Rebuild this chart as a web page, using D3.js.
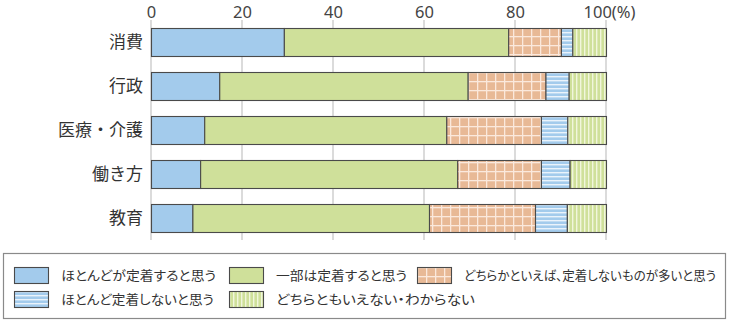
<!DOCTYPE html>
<html>
<head>
<meta charset="utf-8">
<script src="https://cdn.jsdelivr.net/npm/d3@7"></script>
<style>
  html, body { margin: 0; padding: 0; background: #fff; }
  svg { display: block; font-family: "Noto Sans CJK JP", "Noto Sans", sans-serif; }
  .legend-label { font-feature-settings: "palt"; }
</style>
</head>
<body>
<svg id="chart" width="729" height="322"></svg>
<script>
// Survey areas (rows, top to bottom)
const categories = ["消費", "行政", "医療・介護", "働き方", "教育"];

// Response options (stack order, left to right)
const seriesNames = [
  "ほとんどが定着すると思う",
  "一部は定着すると思う",
  "どちらかといえば、定着しないものが多いと思う",
  "ほとんど定着しないと思う",
  "どちらともいえない・わからない"
];

// Share of responses (%) per area, one array per option
const mostlyStay   = [29.2, 15.0, 11.7, 10.8,  9.1];
const partlyStay   = [49.3, 54.6, 53.2, 56.5, 52.0];
const ratherNot    = [11.6, 17.1, 20.8, 18.4, 23.3];
const hardlyStay   = [ 2.5,  5.1,  5.8,  6.3,  7.0];
const cannotSay    = [ 7.4,  8.2,  8.5,  8.0,  8.6];

const tickValues = [0, 20, 40, 60, 80, 100];

const seriesValues = [mostlyStay, partlyStay, ratherNot, hardlyStay, cannotSay];
const fills = ["#a3cbec", "#cfe09a", "url(#grid-orange)", "url(#stripe-blue)", "url(#stripe-green)"];

const svg = d3.select("#chart");
const defs = svg.append("defs");

// grid pattern
const pGrid = defs.append("pattern").attr("id", "grid-orange")
  .attr("patternUnits", "userSpaceOnUse").attr("width", 9).attr("height", 9);
pGrid.append("rect").attr("width", 9).attr("height", 9).attr("fill", "#e8b996");
pGrid.append("rect").attr("x", 0).attr("y", 0).attr("width", 1.3).attr("height", 9).attr("fill", "#fbe9dd");
pGrid.append("rect").attr("x", 0).attr("y", 0).attr("width", 9).attr("height", 1.3).attr("fill", "#fbe9dd");

// horizontal stripes
const pBlue = defs.append("pattern").attr("id", "stripe-blue")
  .attr("patternUnits", "userSpaceOnUse").attr("width", 4).attr("height", 4);
pBlue.append("rect").attr("width", 4).attr("height", 4).attr("fill", "#a3cbec");
pBlue.append("rect").attr("y", 0).attr("width", 4).attr("height", 1.4).attr("fill", "#eaf3fb");

// vertical stripes
const pGreen = defs.append("pattern").attr("id", "stripe-green")
  .attr("patternUnits", "userSpaceOnUse").attr("width", 4).attr("height", 4);
pGreen.append("rect").attr("width", 4).attr("height", 4).attr("fill", "#cfe09a");
pGreen.append("rect").attr("x", 0).attr("width", 1.4).attr("height", 4).attr("fill", "#f1f6dc");

const x = d3.scaleLinear().domain([0, 100]).range([151, 606]);
const y = d3.scaleBand().domain(categories).range([20, 240])
  .paddingInner(16 / 44).paddingOuter(8 / 44);

// vertical gridlines
svg.append("g").selectAll("line").data(tickValues).join("line")
  .attr("x1", d => x(d)).attr("x2", d => x(d))
  .attr("y1", 20).attr("y2", 240)
  .attr("stroke", "#c8c8c8").attr("stroke-width", 1.3);

// top axis labels
const axis = d3.axisTop(x).tickValues(tickValues).tickSize(0)
  .tickFormat(d => d === 100 ? "100(%)" : d);
const gAxis = svg.append("g").call(axis);
gAxis.select(".domain").remove();
gAxis.selectAll("text")
  .attr("font-size", 16.5).attr("fill", "#444")
  .attr("font-family", "'Noto Sans', sans-serif")
  .attr("y", 18).attr("dy", 0);
gAxis.selectAll(".tick").filter(d => d === 100).select("text")
  .attr("text-anchor", "start").attr("x", -23);

// category labels
svg.append("g").selectAll("text").data(categories).join("text")
  .attr("x", 143).attr("y", d => y(d) + y.bandwidth() / 2)
  .attr("dy", "0.36em").attr("text-anchor", "end")
  .attr("font-size", 17).attr("fill", "#333").text(d => d);

// stacked bars
const rows = categories.map((c, i) => {
  const r = { cat: c };
  seriesValues.forEach((arr, k) => r["s" + k] = arr[i]);
  return r;
});
const stack = d3.stack().keys(seriesValues.map((_, k) => "s" + k))(rows);

svg.append("g").selectAll("g").data(stack).join("g")
  .attr("fill", (d, k) => fills[k])
  .selectAll("rect").data(d => d).join("rect")
  .attr("x", d => x(d[0]) + 0.5)
  .attr("y", d => y(d.data.cat) + 0.5)
  .attr("width", d => x(d[1]) - x(d[0]))
  .attr("height", y.bandwidth())
  .attr("stroke", "#4a4a4a").attr("stroke-width", 1.1);

// legend
svg.append("rect").attr("x", 3.5).attr("y", 253.5).attr("width", 722).attr("height", 65)
  .attr("fill", "none").attr("stroke", "#8a8a8a").attr("stroke-width", 1.2);

const legendPos = [
  [14, 267], [229, 267], [417, 267],
  [14, 291], [229, 291]
];
const legendTextWidth = [155, 131, 252, 153, 199];
const lg = svg.append("g").selectAll("g").data(seriesNames).join("g")
  .attr("transform", (d, k) => `translate(${legendPos[k][0]},${legendPos[k][1]})`);
lg.append("rect").attr("x", 0.5).attr("y", 0.5).attr("width", 34).attr("height", 16)
  .attr("fill", (d, k) => fills[k]).attr("stroke", "#4a4a4a").attr("stroke-width", 1.1);
lg.append("text").attr("class", "legend-label")
  .attr("x", 47).attr("y", 8.5).attr("dy", "0.36em")
  .attr("font-size", 12.6).attr("fill", "#333")
  .attr("textLength", (d, k) => legendTextWidth[k]).attr("lengthAdjust", "spacingAndGlyphs")
  .text(d => d);
</script>
</body>
</html>
